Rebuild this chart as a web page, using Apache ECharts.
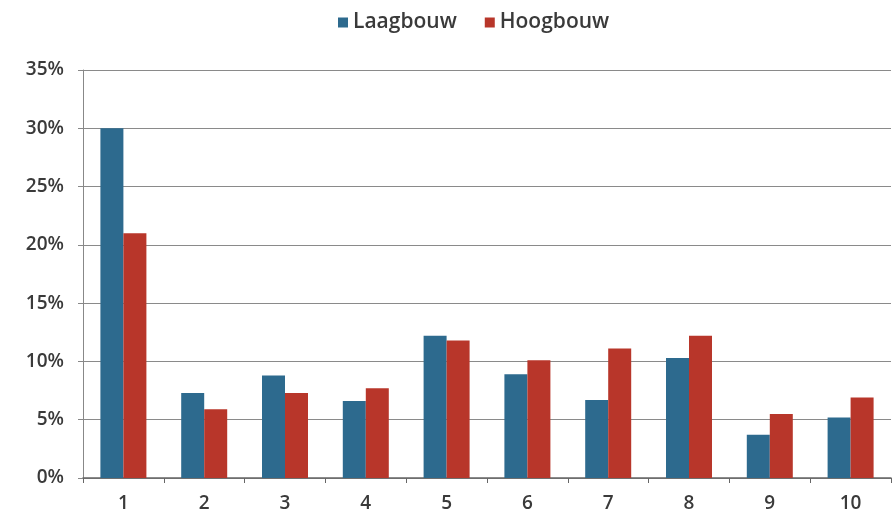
<!DOCTYPE html>
<html><head><meta charset="utf-8">
<script src="https://cdn.jsdelivr.net/npm/echarts@6/dist/echarts.min.js"></script>
<style>html,body{margin:0;padding:0;background:#fff}#c{width:896px;height:516px}</style>
</head><body><div id="c"></div>
<script>
const categories = ['1','2','3','4','5','6','7','8','9','10'];
const laagbouw = [30.0, 7.3, 8.8, 6.6, 12.2, 8.9, 6.7, 10.3, 3.7, 5.2];
const hoogbouw = [21.0, 5.9, 7.3, 7.7, 11.8, 10.1, 11.1, 12.2, 5.5, 6.9];
const chart = echarts.init(document.getElementById('c'), null, {renderer:'canvas'});
chart.setOption({
  animation:false,
  textStyle:{fontFamily:'Open Sans, Arial, sans-serif'},
  legend:{top:7, left:333, itemWidth:10, itemHeight:10, itemGap:28, icon:'rect',
    textStyle:{fontSize:21, fontWeight:600, color:'#3a3a3a', fontFamily:'Open Sans, Arial, sans-serif'}},
  grid:{left:83, right:5, top:70, bottom:38},
  xAxis:{type:'category', data:categories,
    axisLine:{lineStyle:{color:'#666', width:1.5}},
    axisTick:{show:true, alignWithLabel:false, length:5, lineStyle:{color:'#666'}},
    axisLabel:{fontSize:19, fontWeight:600, color:'#3a3a3a', margin:16}},
  yAxis:{type:'value', min:0, max:35, interval:5,
    axisLabel:{formatter:'{value}%', fontSize:19, fontWeight:600, color:'#3a3a3a', margin:19},
    axisLine:{show:true, lineStyle:{color:'#888', width:1}},
    axisTick:{show:true, length:5, lineStyle:{color:'#888'}},
    splitLine:{lineStyle:{color:'#8a8a8a', width:1}}},
  series:[
    {name:'Laagbouw', type:'bar', data:laagbouw, barWidth:23, barGap:'0%', itemStyle:{color:'#2d6a8e'}},
    {name:'Hoogbouw', type:'bar', data:hoogbouw, barWidth:23, itemStyle:{color:'#b8362a'}}
  ]
});
</script></body></html>
